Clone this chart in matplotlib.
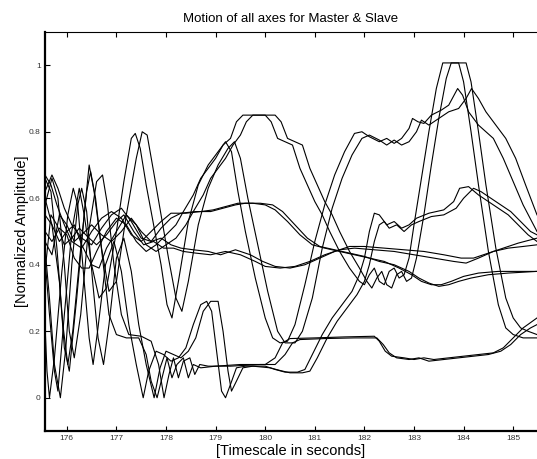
import matplotlib
matplotlib.use("Agg")
import matplotlib.pyplot as plt

plt.rcParams['font.family'] = ['Liberation Sans', 'DejaVu Sans']

# (time [s], normalized amplitude), master / slave per axis
axis1_master = [(175.56,0.42),(175.65,0.25),(175.75,0.08),(175.82,0.02),(175.95,0.25),(176.1,0.50),(176.25,0.63),(176.35,0.55),(176.5,0.40),(176.65,0.30),(176.8,0.33),(177.0,0.50),(177.15,0.65),(177.3,0.78),(177.38,0.795),(177.48,0.75),(177.6,0.64),(177.75,0.52),(177.9,0.40),(178.02,0.28),(178.12,0.24),(178.25,0.35),(178.45,0.53),(178.65,0.64),(178.85,0.70),(179.05,0.74),(179.2,0.77),(179.32,0.74),(179.45,0.62),(179.6,0.50),(179.8,0.36),(180.0,0.24),(180.15,0.18),(180.3,0.165),(180.45,0.17),(180.6,0.22),(180.8,0.34),(181.0,0.47),(181.2,0.58),(181.4,0.67),(181.6,0.74),(181.8,0.795),(181.95,0.80),(182.1,0.785),(182.3,0.77),(182.45,0.78),(182.6,0.765),(182.75,0.78),(182.9,0.81),(182.97,0.84),(183.08,0.83),(183.2,0.825),(183.35,0.85),(183.55,0.865),(183.7,0.88),(183.88,0.93),(183.98,0.91),(184.1,0.86),(184.3,0.82),(184.6,0.78),(184.8,0.72),(185.0,0.65),(185.2,0.58),(185.48,0.50)]
axis1_slave = [(175.56,0.60),(175.7,0.52),(175.85,0.35),(175.95,0.15),(176.05,0.08),(176.2,0.3),(176.35,0.55),(176.45,0.70),(176.55,0.62),(176.7,0.45),(176.85,0.32),(177.0,0.35),(177.2,0.55),(177.4,0.72),(177.52,0.80),(177.62,0.79),(177.75,0.68),(177.9,0.55),(178.05,0.42),(178.2,0.30),(178.32,0.26),(178.45,0.35),(178.65,0.52),(178.85,0.63),(179.05,0.70),(179.25,0.75),(179.38,0.77),(179.5,0.72),(179.65,0.60),(179.85,0.46),(180.05,0.32),(180.25,0.20),(180.4,0.165),(180.6,0.165),(180.75,0.20),(180.95,0.30),(181.15,0.45),(181.35,0.57),(181.55,0.66),(181.75,0.73),(181.95,0.78),(182.1,0.79),(182.3,0.775),(182.45,0.76),(182.6,0.775),(182.75,0.76),(182.9,0.77),(183.05,0.80),(183.15,0.835),(183.3,0.82),(183.5,0.84),(183.7,0.86),(183.9,0.87),(184.05,0.90),(184.16,0.93),(184.3,0.90),(184.45,0.86),(184.65,0.82),(184.85,0.78),(185.05,0.72),(185.25,0.64),(185.48,0.55)]

axis2_master = [(175.56,0.50),(175.7,0.47),(175.85,0.51),(176.0,0.49),(176.15,0.42),(176.3,0.39),(176.45,0.39),(176.6,0.44),(176.8,0.50),(177.0,0.54),(177.2,0.52),(177.4,0.47),(177.6,0.44),(177.8,0.46),(178.0,0.49),(178.2,0.52),(178.35,0.56),(178.55,0.61),(178.7,0.66),(178.85,0.69),(179.0,0.72),(179.15,0.76),(179.3,0.78),(179.42,0.83),(179.55,0.85),(180.0,0.85),(180.12,0.83),(180.25,0.78),(180.4,0.77),(180.55,0.76),(180.7,0.69),(180.85,0.64),(181.0,0.59),(181.15,0.55),(181.3,0.50),(181.5,0.44),(181.7,0.39),(181.9,0.35),(182.0,0.34),(182.1,0.37),(182.2,0.39),(182.3,0.35),(182.4,0.34),(182.5,0.38),(182.6,0.39),(182.7,0.36),(182.8,0.37),(182.9,0.42),(183.0,0.52),(183.15,0.66),(183.3,0.80),(183.45,0.93),(183.58,1.007),(183.9,1.007),(184.0,0.95),(184.15,0.80),(184.3,0.64),(184.5,0.44),(184.7,0.28),(184.85,0.21),(185.0,0.19),(185.2,0.18),(185.48,0.18)]
axis2_slave = [(175.56,0.55),(175.7,0.52),(175.85,0.47),(176.0,0.50),(176.15,0.52),(176.3,0.46),(176.5,0.40),(176.65,0.39),(176.8,0.45),(177.0,0.50),(177.2,0.55),(177.4,0.52),(177.6,0.46),(177.8,0.44),(178.0,0.46),(178.2,0.48),(178.4,0.52),(178.55,0.56),(178.75,0.61),(178.9,0.66),(179.05,0.69),(179.2,0.72),(179.35,0.76),(179.5,0.79),(179.62,0.83),(179.75,0.85),(180.2,0.85),(180.32,0.83),(180.45,0.78),(180.6,0.77),(180.75,0.76),(180.9,0.69),(181.05,0.64),(181.2,0.59),(181.35,0.55),(181.5,0.50),(181.7,0.44),(181.9,0.39),(182.05,0.35),(182.15,0.33),(182.25,0.36),(182.35,0.38),(182.45,0.34),(182.55,0.33),(182.65,0.37),(182.75,0.38),(182.85,0.35),(182.95,0.36),(183.05,0.42),(183.2,0.55),(183.35,0.70),(183.5,0.84),(183.65,0.96),(183.75,1.007),(184.05,1.007),(184.15,0.95),(184.3,0.80),(184.45,0.64),(184.65,0.45),(184.85,0.30),(185.0,0.24),(185.15,0.21),(185.3,0.20),(185.48,0.19)]

axis3_master = [(175.56,0.22),(175.6,0.08),(175.65,0.0),(175.75,0.12),(175.9,0.38),(176.02,0.55),(176.13,0.63),(176.22,0.58),(176.35,0.35),(176.45,0.18),(176.53,0.10),(176.62,0.20),(176.78,0.40),(176.95,0.47),(177.1,0.38),(177.25,0.22),(177.4,0.10),(177.54,0.0),(177.65,0.08),(177.8,0.14),(177.95,0.13),(178.1,0.11),(178.25,0.12),(178.4,0.15),(178.55,0.22),(178.7,0.28),(178.82,0.29),(178.92,0.26),(179.02,0.14),(179.12,0.02),(179.2,0.0),(179.3,0.04),(179.42,0.09),(179.6,0.095),(180.0,0.095),(180.2,0.085),(180.4,0.077),(180.65,0.077),(180.8,0.085),(180.95,0.13),(181.15,0.19),(181.35,0.24),(181.55,0.28),(181.75,0.32),(181.9,0.37),(182.0,0.42),(182.1,0.50),(182.2,0.555),(182.3,0.55),(182.45,0.52),(182.6,0.53),(182.75,0.51),(182.9,0.52),(183.05,0.54),(183.3,0.555),(183.6,0.565),(183.8,0.59),(183.92,0.63),(184.1,0.635),(184.3,0.61),(184.5,0.59),(184.7,0.57),(184.9,0.55),(185.1,0.52),(185.3,0.49),(185.48,0.47)]
axis3_slave = [(175.56,0.45),(175.65,0.30),(175.75,0.10),(175.87,0.0),(175.98,0.15),(176.1,0.40),(176.22,0.58),(176.3,0.63),(176.4,0.56),(176.52,0.35),(176.63,0.18),(176.74,0.10),(176.85,0.22),(177.0,0.42),(177.15,0.48),(177.3,0.38),(177.45,0.22),(177.6,0.10),(177.76,0.0),(177.88,0.09),(178.0,0.14),(178.15,0.13),(178.3,0.12),(178.45,0.14),(178.6,0.18),(178.75,0.26),(178.9,0.29),(179.05,0.29),(179.15,0.20),(179.25,0.08),(179.32,0.02),(179.42,0.05),(179.55,0.09),(179.75,0.095),(180.1,0.09),(180.3,0.082),(180.5,0.075),(180.75,0.075),(180.9,0.08),(181.05,0.12),(181.25,0.18),(181.45,0.23),(181.65,0.27),(181.85,0.31),(182.0,0.35),(182.1,0.40),(182.2,0.47),(182.3,0.52),(182.4,0.53),(182.5,0.51),(182.65,0.52),(182.8,0.50),(182.95,0.52),(183.1,0.53),(183.35,0.545),(183.6,0.55),(183.85,0.57),(184.0,0.60),(184.2,0.63),(184.35,0.62),(184.55,0.60),(184.75,0.58),(184.95,0.56),(185.15,0.53),(185.35,0.50),(185.48,0.49)]

axis4_master = [(175.56,0.66),(175.68,0.62),(175.8,0.45),(175.92,0.22),(176.02,0.10),(176.12,0.20),(176.28,0.45),(176.4,0.62),(176.48,0.68),(176.58,0.60),(176.72,0.42),(176.85,0.25),(177.0,0.19),(177.2,0.18),(177.45,0.18),(177.6,0.13),(177.7,0.05),(177.82,0.0),(177.92,0.06),(178.02,0.12),(178.12,0.06),(178.22,0.10),(178.35,0.12),(178.45,0.06),(178.55,0.10),(178.7,0.09),(179.0,0.095),(179.5,0.10),(180.0,0.10),(180.2,0.12),(180.35,0.165),(180.5,0.178),(181.0,0.18),(181.6,0.183),(182.2,0.185),(182.3,0.17),(182.42,0.14),(182.55,0.125),(182.8,0.12),(183.0,0.115),(183.2,0.12),(183.4,0.115),(183.7,0.12),(184.0,0.125),(184.3,0.13),(184.6,0.135),(184.8,0.15),(185.0,0.18),(185.2,0.21),(185.48,0.24)]
axis4_slave = [(175.56,0.58),(175.7,0.66),(175.82,0.60),(175.95,0.40),(176.05,0.20),(176.15,0.12),(176.28,0.25),(176.42,0.48),(176.6,0.65),(176.72,0.67),(176.82,0.58),(176.95,0.40),(177.1,0.25),(177.25,0.19),(177.5,0.185),(177.7,0.17),(177.85,0.10),(177.96,0.0),(178.06,0.07),(178.15,0.12),(178.25,0.06),(178.35,0.11),(178.48,0.12),(178.58,0.07),(178.68,0.10),(178.85,0.095),(179.3,0.095),(179.9,0.10),(180.2,0.10),(180.4,0.13),(180.55,0.165),(180.7,0.175),(181.2,0.178),(181.8,0.18),(182.25,0.18),(182.38,0.16),(182.5,0.135),(182.65,0.12),(182.9,0.115),(183.1,0.12),(183.3,0.11),(183.6,0.115),(183.9,0.12),(184.2,0.125),(184.5,0.13),(184.75,0.14),(184.95,0.16),(185.15,0.19),(185.35,0.21),(185.48,0.22)]

axis5_master = [(175.56,0.38),(175.68,0.55),(175.8,0.52),(175.95,0.46),(176.1,0.48),(176.25,0.51),(176.45,0.48),(176.6,0.46),(176.8,0.49),(177.0,0.53),(177.15,0.55),(177.35,0.50),(177.55,0.46),(177.75,0.47),(177.95,0.45),(178.15,0.45),(178.35,0.44),(178.6,0.435),(178.9,0.43),(179.2,0.44),(179.5,0.43),(179.8,0.41),(180.0,0.395),(180.3,0.39),(180.6,0.395),(180.9,0.41),(181.2,0.43),(181.5,0.445),(181.8,0.45),(182.2,0.445),(182.6,0.44),(183.0,0.43),(183.4,0.42),(183.8,0.41),(184.05,0.405),(184.3,0.42),(184.6,0.44),(184.9,0.45),(185.2,0.455),(185.48,0.46)]
axis5_slave = [(175.56,0.47),(175.7,0.43),(175.85,0.55),(176.0,0.52),(176.15,0.47),(176.3,0.49),(176.5,0.52),(176.7,0.49),(176.9,0.47),(177.1,0.50),(177.3,0.54),(177.5,0.50),(177.7,0.47),(177.9,0.48),(178.1,0.46),(178.3,0.45),(178.55,0.445),(178.85,0.44),(179.1,0.43),(179.4,0.445),(179.7,0.43),(179.95,0.41),(180.2,0.395),(180.5,0.39),(180.8,0.40),(181.1,0.42),(181.4,0.44),(181.7,0.455),(182.0,0.455),(182.4,0.45),(182.8,0.445),(183.2,0.44),(183.6,0.43),(183.95,0.42),(184.2,0.42),(184.5,0.435),(184.8,0.45),(185.1,0.465),(185.48,0.48)]

axis6_master = [(175.56,0.67),(175.68,0.64),(175.8,0.58),(175.95,0.52),(176.1,0.47),(176.3,0.45),(176.5,0.50),(176.7,0.54),(176.9,0.56),(177.1,0.54),(177.3,0.49),(177.5,0.47),(177.7,0.50),(177.9,0.53),(178.1,0.555),(178.4,0.555),(178.7,0.56),(178.95,0.565),(179.2,0.575),(179.45,0.585),(179.75,0.585),(180.0,0.58),(180.2,0.565),(180.45,0.53),(180.7,0.49),(180.95,0.46),(181.2,0.45),(181.5,0.44),(181.8,0.43),(182.1,0.42),(182.4,0.41),(182.7,0.39),(182.95,0.37),(183.15,0.35),(183.35,0.34),(183.55,0.34),(183.75,0.35),(184.0,0.365),(184.3,0.375),(184.7,0.38),(185.1,0.38),(185.48,0.38)]
axis6_slave = [(175.56,0.62),(175.7,0.67),(175.82,0.63),(175.95,0.57),(176.1,0.52),(176.3,0.48),(176.5,0.46),(176.7,0.51),(176.9,0.55),(177.1,0.57),(177.3,0.53),(177.5,0.48),(177.7,0.47),(177.9,0.51),(178.1,0.54),(178.3,0.555),(178.6,0.56),(178.9,0.56),(179.15,0.57),(179.4,0.58),(179.6,0.585),(179.9,0.585),(180.15,0.58),(180.35,0.56),(180.6,0.52),(180.85,0.48),(181.1,0.455),(181.4,0.445),(181.7,0.435),(182.0,0.425),(182.3,0.41),(182.6,0.40),(182.9,0.38),(183.1,0.36),(183.3,0.345),(183.5,0.335),(183.7,0.34),(183.9,0.35),(184.15,0.36),(184.5,0.37),(184.9,0.375),(185.48,0.38)]

all_lines = [axis1_master, axis1_slave, axis2_master, axis2_slave, axis3_master, axis3_slave,
             axis4_master, axis4_slave, axis5_master, axis5_slave, axis6_master, axis6_slave]

x_ticks = [176, 177, 178, 179, 180, 181, 182, 183, 184, 185]
y_ticks = [0, 0.2, 0.4, 0.6, 0.8, 1]
y_tick_labels = ["0", "0.2", "0.4", "0.6", "0.8", "1"]

fig = plt.figure(figsize=(5.37, 4.59), dpi=100)
ax = fig.add_axes([45/537, 28/459, 492/537, 399/459])

for line in all_lines:
    t = [p[0] for p in line]
    v = [p[1] for p in line]
    ax.plot(t, v, color='black', linewidth=0.8)

ax.set_xlim(175.56, 185.48)
ax.set_ylim(-0.1, 1.1)
ax.set_xticks(x_ticks)
ax.set_xticklabels([str(x) for x in x_ticks])
ax.set_yticks(y_ticks)
ax.set_yticklabels(y_tick_labels)
ax.tick_params(direction='in', length=3.5, width=0.8, labelsize=6,
               labelcolor='#333333', top=True, pad=3)

ax.spines['right'].set_visible(False)
ax.spines['left'].set_linewidth(1.6)
ax.spines['bottom'].set_linewidth(1.6)
ax.spines['top'].set_linewidth(0.8)

ax.set_title("Motion of all axes for Master & Slave", fontsize=9.5, pad=7)
ax.set_xlabel("[Timescale in seconds]", fontsize=10.5, labelpad=1)
ax.set_ylabel("[Normalized Amplitude]", fontsize=10.5, labelpad=0)

fig.savefig("out.png", dpi=100)
